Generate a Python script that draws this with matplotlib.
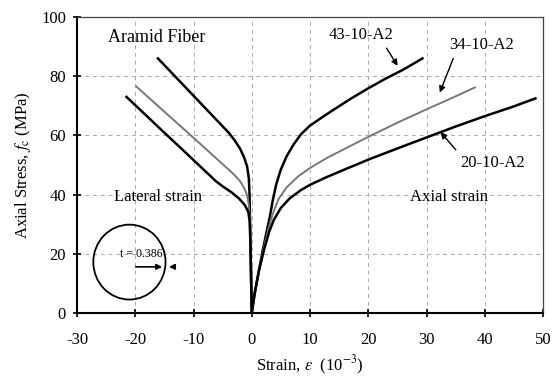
import matplotlib
matplotlib.use("Agg")
import matplotlib.pyplot as plt
from matplotlib.patches import Ellipse

plt.rcParams['font.family'] = 'Liberation Serif'
plt.rcParams['mathtext.fontset'] = 'stix'
plt.rcParams['font.size'] = 12
plt.rcParams['axes.unicode_minus'] = False

# ---- data (strain in 1e-3, stress in MPa) ----
# 43-10-A2
lat43_x = [-16.1, -13, -10, -7, -4, -3, -2, -1.3, -0.8, -0.5, -0.38, -0.3, -0.2, -0.1, 0]
lat43_y = [86, 79.6, 73.4, 67.2, 61, 58.5, 55.5, 52.5, 49.5, 45.5, 40, 32, 21, 10, 0]
ax43_x = [0, 0.5, 1.2, 1.9, 2.5, 3.1, 3.6, 4.2, 5.0, 6.0, 7.2, 8.5, 10, 12, 14, 17, 20, 23, 26, 29.3]
ax43_y = [0, 6.6, 14, 21.3, 27, 32.5, 38, 43.5, 48.5, 53, 57, 60.5, 63.3, 66, 68.6, 72.4, 75.9, 79.2, 82.2, 86]

# 34-10-A2
lat34_x = [-19.8, -15, -10, -5, -3, -2, -1.3, -0.8, -0.5, -0.35, -0.2, -0.1, 0]
lat34_y = [76.5, 68, 59.2, 50.3, 46.7, 44.5, 42.2, 39.8, 36.5, 32, 21, 10, 0]
ax34_x = [0, 0.5, 1.2, 2.0, 2.8, 3.6, 4.6, 6.0, 8.0, 10, 13, 16, 20, 25, 30, 35, 38.3]
ax34_y = [0, 6.6, 14, 21.3, 28, 33.5, 38.5, 42.5, 46.2, 49, 52.5, 55.5, 59.5, 64.3, 68.8, 73.2, 76.2]

# 20-10-A2
lat20_x = [-21.5, -18, -15, -12, -9, -6.2, -5, -3.5, -2.2, -1.2, -0.6, -0.35, -0.2, -0.1, 0]
lat20_y = [73, 66.5, 60.9, 55.4, 49.8, 44.6, 42.8, 40.8, 38.7, 36.5, 34.2, 31, 21, 10, 0]
ax20_x = [0, 0.5, 1.2, 2.1, 3.0, 3.8, 5, 6.5, 8.5, 10, 12.5, 15, 20, 25, 30, 35, 40, 45, 48.7]
ax20_y = [0, 6.6, 14, 21.3, 27.5, 31.5, 35.5, 38.7, 41.6, 43.3, 45.6, 47.7, 51.8, 55.6, 59.3, 63, 66.5, 69.8, 72.5]

x_ticks = [-30, -20, -10, 0, 10, 20, 30, 40, 50]
y_ticks = [0, 20, 40, 60, 80, 100]

fig = plt.figure(figsize=(5.52, 3.87), dpi=100)
ax = fig.add_axes([0.1395, 0.1912, 0.8442, 0.7649])

ax.plot(lat43_x, lat43_y, color='black', lw=1.8, solid_joinstyle='round')
ax.plot(ax43_x, ax43_y, color='black', lw=1.8, solid_joinstyle='round')
ax.plot(lat34_x, lat34_y, color='#777777', lw=1.4, solid_joinstyle='round')
ax.plot(ax34_x, ax34_y, color='#777777', lw=1.4, solid_joinstyle='round')
ax.plot(lat20_x, lat20_y, color='black', lw=1.8, solid_joinstyle='round')
ax.plot(ax20_x, ax20_y, color='black', lw=1.8, solid_joinstyle='round')

ax.set_xlim(-30, 50)
ax.set_ylim(0, 100)
ax.set_xticks(x_ticks)
ax.set_yticks(y_ticks)
ax.grid(True, color='#aaaaaa', linestyle=(0, (4, 4)), lw=0.7)
ax.set_axisbelow(True)
ax.tick_params(axis='x', direction='inout', length=6, width=1.2, pad=11)
ax.tick_params(axis='y', direction='inout', length=6, width=1.2, pad=5)
for s in ['left', 'bottom']:
    ax.spines[s].set_linewidth(1.5)
for s in ['top', 'right']:
    ax.spines[s].set_linewidth(0.9)
    ax.spines[s].set_color('#444444')

ax.set_xlabel(r"Strain, $\varepsilon$  (10$^{-3}$)", labelpad=4)
ax.set_ylabel(r"Axial Stress, $f_{\rm c}$ (MPa)", labelpad=6)

# labels
ax.text(-16.3, 93, "Aramid Fiber", ha='center', va='center', fontsize=13)
ax.text(-16.1, 39.2, "Lateral strain", ha='center', va='center')
ax.text(33.9, 39.2, "Axial strain", ha='center', va='center')

arrow = dict(arrowstyle='-|>', color='black', lw=1.0, mutation_scale=9)
ax.annotate("43-10-A2", xy=(25.3, 82.7), xytext=(18.7, 93.9), ha='center', va='center',
            arrowprops=dict(arrow, relpos=(0.85, 0.0)))
ax.annotate("34-10-A2", xy=(32.1, 73.6), xytext=(39.4, 90.5), ha='center', va='center',
            arrowprops=dict(arrow, relpos=(0.1, 0.0)))
ax.annotate("20-10-A2", xy=(32.1, 61.8), xytext=(41.3, 50.8), ha='center', va='center',
            arrowprops=dict(arrow, relpos=(0.0, 1.0)))

# cross-section sketch
ax.add_patch(Ellipse((-21, 17.2), 12.4, 25.3, fill=False, ec='black', lw=1.3))
ax.text(-18.9, 19.8, "t = 0.386", ha='center', va='center', fontsize=8.5)
ax.annotate("", xy=(-14.9, 15.6), xytext=(-20.4, 15.6),
            arrowprops=dict(arrowstyle='-|>', color='black', lw=1.2, mutation_scale=8))
ax.annotate("", xy=(-14.7, 15.6), xytext=(-12.7, 15.6),
            arrowprops=dict(arrowstyle='-|>', color='black', lw=1.2, mutation_scale=8))

fig.savefig("out.png", dpi=100)
